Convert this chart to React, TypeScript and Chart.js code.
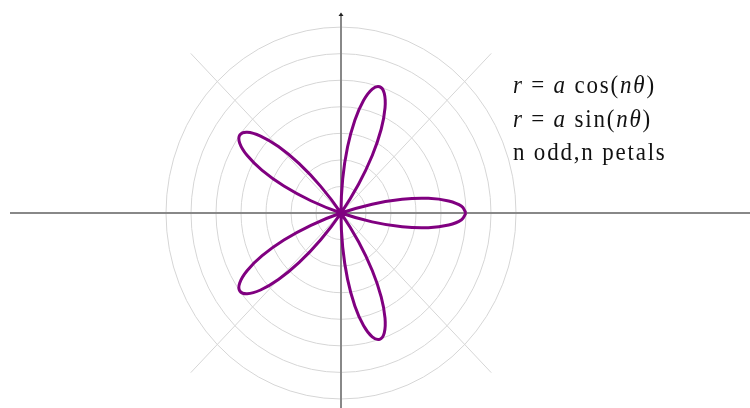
import React, { useEffect, useRef } from "react";
import { Chart, registerables } from "chart.js";

Chart.register(...registerables);

// Polar angle samples (degrees) and radius r = a·cos(5θ) read from the rose, a = 5 grid units
const thetaDeg: number[] = [
  0, 3, 6, 9, 12, 15, 18, 21, 24, 27, 30, 33, 36, 39, 42, 45, 48, 51, 54, 57,
  60, 63, 66, 69, 72, 75, 78, 81, 84, 87, 90, 93, 96, 99, 102, 105, 108, 111, 114, 117,
  120, 123, 126, 129, 132, 135, 138, 141, 144, 147, 150, 153, 156, 159, 162, 165, 168, 171, 174, 177,
  180,
];
const radius: number[] = [
  5, 4.83, 4.33, 3.54, 2.5, 1.29, 0, -1.29, -2.5, -3.54, -4.33, -4.83, -5, -4.83, -4.33, -3.54, -2.5, -1.29, 0, 1.29,
  2.5, 3.54, 4.33, 4.83, 5, 4.83, 4.33, 3.54, 2.5, 1.29, 0, -1.29, -2.5, -3.54, -4.33, -4.83, -5, -4.83, -4.33, -3.54,
  -2.5, -1.29, 0, 1.29, 2.5, 3.54, 4.33, 4.83, 5, 4.83, 4.33, 3.54, 2.5, 1.29, 0, -1.29, -2.5, -3.54, -4.33, -4.83,
  -5,
];
// Grid rings (units) and radial guide angles
const rings: number[] = [1, 2, 3, 4, 5, 6, 7];
const spokeAngles: number[] = [45, 135, 225, 315];
const spokeLength = 8.5;
// Axis extents (units)
const xAxisStart = -13.24;
const yAxisTop = 7.49;
const xRange: [number, number] = [-13.64, 16.36];
const yRange: [number, number] = [-7.34, 8.02];

const labelLines: { text: string; italic: boolean }[][] = [
  [
    { text: "r", italic: true },
    { text: " = ", italic: false },
    { text: "a", italic: true },
    { text: " cos(", italic: false },
    { text: "nθ", italic: true },
    { text: ")", italic: false },
  ],
  [
    { text: "r", italic: true },
    { text: " = ", italic: false },
    { text: "a", italic: true },
    { text: " sin(", italic: false },
    { text: "nθ", italic: true },
    { text: ")", italic: false },
  ],
  [{ text: "n odd,n petals", italic: false }],
];

export default function App() {
  const ref = useRef<HTMLCanvasElement | null>(null);

  useEffect(() => {
    if (!ref.current) return;
    const points = thetaDeg.map((t, i) => {
      const a = (t * Math.PI) / 180;
      return { x: radius[i] * Math.cos(a), y: radius[i] * Math.sin(a) };
    });

    const backdrop = {
      id: "backdrop",
      beforeDatasetsDraw(chart: any) {
        const { ctx, scales } = chart;
        const xs = scales.x;
        const ys = scales.y;
        const cx = xs.getPixelForValue(0);
        const cy = ys.getPixelForValue(0);
        ctx.save();
        ctx.strokeStyle = "#d6d6d6";
        ctx.lineWidth = 1;
        rings.forEach((r) => {
          const rx = Math.abs(xs.getPixelForValue(r) - cx);
          const ry = Math.abs(ys.getPixelForValue(r) - cy);
          ctx.beginPath();
          ctx.ellipse(cx, cy, rx, ry, 0, 0, Math.PI * 2);
          ctx.stroke();
        });
        spokeAngles.forEach((deg) => {
          const a = (deg * Math.PI) / 180;
          ctx.beginPath();
          ctx.moveTo(cx, cy);
          ctx.lineTo(
            xs.getPixelForValue(spokeLength * Math.cos(a)),
            ys.getPixelForValue(spokeLength * Math.sin(a))
          );
          ctx.stroke();
        });
        // axes
        ctx.strokeStyle = "#888888";
        ctx.lineWidth = 2;
        ctx.beginPath();
        ctx.moveTo(xs.getPixelForValue(xAxisStart), cy);
        ctx.lineTo(xs.getPixelForValue(xRange[1]), cy);
        ctx.stroke();
        const topY = ys.getPixelForValue(yAxisTop);
        ctx.beginPath();
        ctx.moveTo(cx, topY);
        ctx.lineTo(cx, ys.getPixelForValue(yRange[0]));
        ctx.stroke();
        ctx.fillStyle = "#222";
        ctx.beginPath();
        ctx.moveTo(cx - 2.5, topY + 2);
        ctx.lineTo(cx + 2.5, topY + 2);
        ctx.lineTo(cx, topY - 1.5);
        ctx.closePath();
        ctx.fill();
        ctx.restore();
      },
      afterDraw(chart: any) {
        const { ctx } = chart;
        const x0 = 513;
        const baselines = [93, 126.5, 160];
        const sy = 1.1;
        labelLines.forEach((segs, li) => {
          ctx.save();
          ctx.translate(0, baselines[li]);
          ctx.scale(1, sy);
          ctx.fillStyle = "#111";
          ctx.textBaseline = "alphabetic";
          (ctx as any).letterSpacing = "1.8px";
          let x = x0;
          segs.forEach((s) => {
            ctx.font = `${s.italic ? "italic " : ""}23px "Liberation Serif", "Times New Roman", serif`;
            ctx.fillText(s.text, x, 0);
            x += ctx.measureText(s.text).width;
          });
          ctx.restore();
        });
      },
    };

    const chart = new Chart(ref.current, {
      type: "scatter",
      data: {
        datasets: [
          {
            data: points,
            showLine: true,
            borderColor: "#800080",
            borderWidth: 3,
            pointRadius: 0,
            tension: 0.4,
            fill: false,
          } as any,
        ],
      },
      options: {
        animation: false,
        responsive: false,
        layout: { padding: 0 },
        plugins: { legend: { display: false }, tooltip: { enabled: false } },
        scales: {
          x: { type: "linear", min: xRange[0], max: xRange[1], display: false },
          y: { type: "linear", min: yRange[0], max: yRange[1], display: false },
        },
      },
      plugins: [backdrop],
    });
    return () => chart.destroy();
  }, []);

  return (
    <div style={{ position: "absolute", left: 0, top: 0, width: 750, height: 408, background: "#fff" }}>
      <canvas ref={ref} width={750} height={408} style={{ display: "block" }} />
    </div>
  );
}
